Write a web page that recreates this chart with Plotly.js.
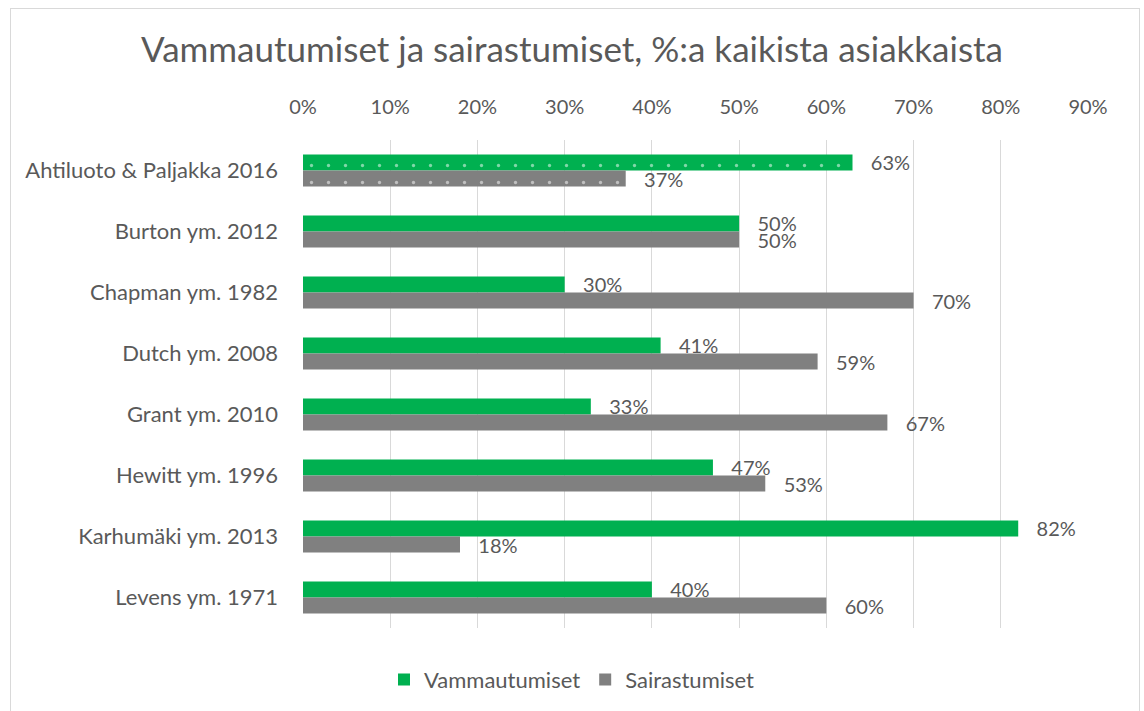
<!DOCTYPE html>
<html><head><meta charset="utf-8">
<script src="https://cdn.plot.ly/plotly-3.0.1.min.js"></script>
<style>
body{margin:0;padding:0;background:#fff;}
#wrap{position:relative;width:1144px;height:711px;overflow:hidden;}
#chart{position:absolute;left:0;top:0;width:1144px;height:711px;}
#border{position:absolute;left:10px;top:8px;width:1128px;height:720px;border:1px solid #d9d9d9;pointer-events:none;}
</style></head>
<body><div id="wrap"><div id="chart"></div><div id="border"></div></div>
<script>
const categories = ["Ahtiluoto & Paljakka 2016","Burton ym. 2012","Chapman ym. 1982","Dutch ym. 2008","Grant ym. 2010","Hewitt ym. 1996","Karhumäki ym. 2013","Levens ym. 1971"];
const vammautumiset = [63,50,30,41,33,47,82,40];
const sairastumiset = [37,50,70,59,67,53,18,60];
const patterns = [".","","","","","","",""];
const tickVals = [0,10,20,30,40,50,60,70,80,90];
const tickText = ["0%","10%","20%","30%","40%","50%","60%","70%","80%","90%"];
const seriesNames = ["Vammautumiset","Sairastumiset"];
const seriesColors = ["#00b050","#808080"];

const font = "Lato, 'Open Sans', sans-serif";
const txt = "#595959";
const pad = "\u00a0\u00a0\u00a0";

function tr(name, vals, color){
  return {
    type:"bar", orientation:"h", name:name, y:categories, x:vals, showlegend:false,
    marker:{color:color, pattern:{shape:patterns, fgcolor:"#ffffff", size:17, solidity:0.03, fillmode:"overlay"}},
    text: vals.map(v=>pad+v+"%"), textposition:"outside", cliponaxis:false, constraintext:"none",
    textfont:{family:font,size:20,color:txt},
    hoverinfo:"x+y"
  };
}
function legendTr(name, color){
  return {type:"bar", orientation:"h", name:name, x:[null], y:[null], xaxis:"x2", yaxis:"y2",
    marker:{color:color}, showlegend:true, hoverinfo:"skip"};
}
const data = [
  tr(seriesNames[0], vammautumiset, seriesColors[0]),
  tr(seriesNames[1], sairastumiset, seriesColors[1]),
  legendTr(seriesNames[0], seriesColors[0]),
  legendTr(seriesNames[1], seriesColors[1])
];
const layout = {
  width:1144, height:711,
  margin:{l:303,r:56,t:140,b:83},
  paper_bgcolor:"#fff", plot_bgcolor:"#fff",
  title:{text:"Vammautumiset ja sairastumiset, %:a kaikista asiakkaista", font:{family:font,size:35,color:txt}, x:0.5, xref:"container", y:0.93, yref:"container", yanchor:"middle"},
  barmode:"group", bargap:0.475, bargroupgap:0,
  xaxis:{side:"top", range:[0,90], tickvals:tickVals, ticktext:tickText, showgrid:true, gridcolor:"#d9d9d9", gridwidth:1, zeroline:false, showline:false, ticks:"", ticklabelstandoff:21, tickfont:{family:font,size:20,color:txt}, fixedrange:true},
  yaxis:{autorange:"reversed", showgrid:false, zeroline:false, showline:false, ticks:"", ticklen:0, ticklabelstandoff:24, tickfont:{family:font,size:22,color:txt}, automargin:false},
  xaxis2:{overlaying:"x", visible:false, range:[0,1]},
  yaxis2:{overlaying:"y", visible:false, range:[0,1]},
  legend:{orientation:"h", x:0.5, xref:"container", xanchor:"center", y:0.044, yref:"container", yanchor:"middle", font:{family:font,size:22,color:txt}, traceorder:"normal"},
  showlegend:true
};
Plotly.newPlot("chart", data, layout, {displayModeBar:false, staticPlot:true});
</script></body></html>
